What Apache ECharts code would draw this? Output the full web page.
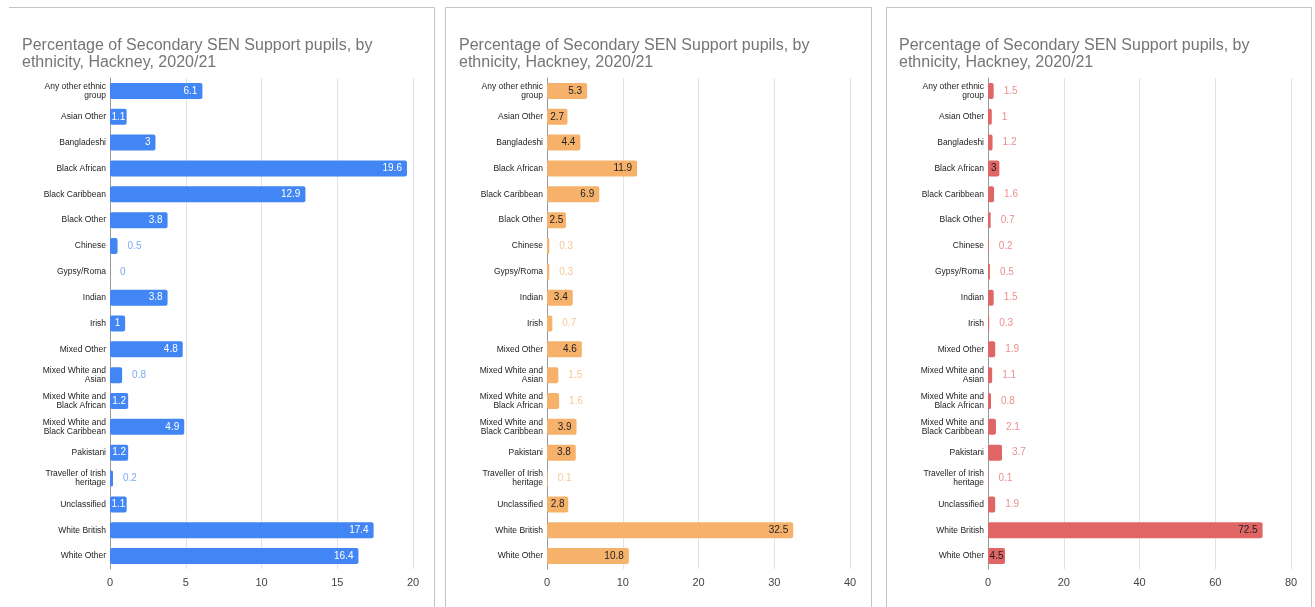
<!DOCTYPE html>
<html>
<head>
<meta charset="utf-8">
<script src="https://cdn.jsdelivr.net/npm/echarts@6/dist/echarts.min.js"></script>
<style>
html,body{margin:0;padding:0;background:#fff;}
#c{width:1315px;height:607px;}
</style>
</head>
<body>
<div id="c"></div>
<script>
const categories = ["Any other ethnic group","Asian Other","Bangladeshi","Black African","Black Caribbean","Black Other","Chinese","Gypsy/Roma","Indian","Irish","Mixed Other","Mixed White and Asian","Mixed White and Black African","Mixed White and Black Caribbean","Pakistani","Traveller of Irish heritage","Unclassified","White British","White Other"];
const valuesBlue = [6.1,1.1,3,19.6,12.9,3.8,0.5,0,3.8,1,4.8,0.8,1.2,4.9,1.2,0.2,1.1,17.4,16.4];
const valuesOrange = [5.3,2.7,4.4,11.9,6.9,2.5,0.3,0.3,3.4,0.7,4.6,1.5,1.6,3.9,3.8,0.1,2.8,32.5,10.8];
const valuesRed = [1.5,1,1.2,3,1.6,0.7,0.2,0.5,1.5,0.3,1.9,1.1,0.8,2.1,3.7,0.1,1.9,72.5,4.5];
const axisMax = [20,40,80];
const axisInterval = [5,10,20];
const titleText = "Percentage of Secondary SEN Support pupils, by\nethnicity, Hackney, 2020/21";

const panels = [
  {values: valuesBlue, color:'#4285f4', inColor:'#ffffff', outColor:'#7eaaf6', gridLeft:110, titleLeft:22},
  {values: valuesOrange, color:'#f6b26b', inColor:'#222222', outColor:'#f9c895', gridLeft:547, titleLeft:459},
  {values: valuesRed, color:'#e06666', inColor:'#222222', outColor:'#eb8f8f', gridLeft:988, titleLeft:899}
];
const gridWidth = 303;
const labelFont = 10;

function textWidth(s){
  let w=0;
  for(const ch of s){ w += (ch==='.') ? 0.278 : 0.556; }
  return w*labelFont;
}
function wrap(name){
  if(name.length<=18) return name;
  const idx = name.lastIndexOf(' ',18);
  return name.slice(0,idx)+'\n'+name.slice(idx+1);
}

const grids=[], xAxes=[], yAxes=[], series=[], titles=[];
panels.forEach((p,i)=>{
  titles.push({
    text:titleText, left:p.titleLeft, top:37, padding:0,
    textStyle:{fontFamily:'Liberation Sans, Arial, sans-serif', fontSize:16, fontWeight:'normal', color:'#757575', lineHeight:17}
  });
  grids.push({left:p.gridLeft, width:gridWidth, top:78, height:491, containLabel:false});
  xAxes.push({
    type:'value', gridIndex:i, min:0, max:axisMax[i], interval:axisInterval[i],
    axisLine:{show:false}, axisTick:{show:false},
    splitLine:{show:true, lineStyle:{color:'#e2e2e2', width:1}},
    axisLabel:{fontFamily:'Liberation Sans, Arial, sans-serif', fontSize:11, color:'#444', margin:8}
  });
  yAxes.push({
    type:'category', gridIndex:i, data:categories, inverse:true,
    axisLine:{show:true, lineStyle:{color:'#999', width:1}},
    axisTick:{show:false},
    axisLabel:{fontFamily:'Liberation Sans, Arial, sans-serif', fontSize:8.5, color:'#222', margin:4, lineHeight:9, formatter:(v)=>wrap(v)}
  });
  const data = p.values.map(v=>{
    const s = String(v);
    const tw = textWidth(s);
    const bw = v/axisMax[i]*gridWidth;
    const inside = tw + 2 <= bw;
    return {
      value:v,
      label: inside ? {position:'insideRight', distance:Math.min(5,(bw-tw)/2), color:p.inColor}
                    : {position:'right', distance:10, color:p.outColor}
    };
  });
  series.push({
    type:'bar', xAxisIndex:i, yAxisIndex:i, data:data, barWidth:16,
    itemStyle:{color:p.color, borderRadius:2},
    label:{show:true, fontFamily:'Liberation Sans, Arial, sans-serif', fontSize:labelFont},
    silent:true, animation:false
  });
});

const chart = echarts.init(document.getElementById('c'));
chart.setOption({
  animation:false,
  title:titles, grid:grids, xAxis:xAxes, yAxis:yAxes, series:series,
  graphic:[
    {type:'polyline', shape:{points:[[9,7.5],[434.5,7.5],[434.5,607]]}, style:{stroke:'#c4c4c4', fill:null, lineWidth:1}, silent:true},
    {type:'rect', shape:{x:445.5,y:7.5,width:426,height:620}, style:{stroke:'#c4c4c4', fill:null, lineWidth:1}, silent:true},
    {type:'rect', shape:{x:886.5,y:7.5,width:425,height:620}, style:{stroke:'#c4c4c4', fill:null, lineWidth:1}, silent:true}
  ]
});
</script>
</body>
</html>
